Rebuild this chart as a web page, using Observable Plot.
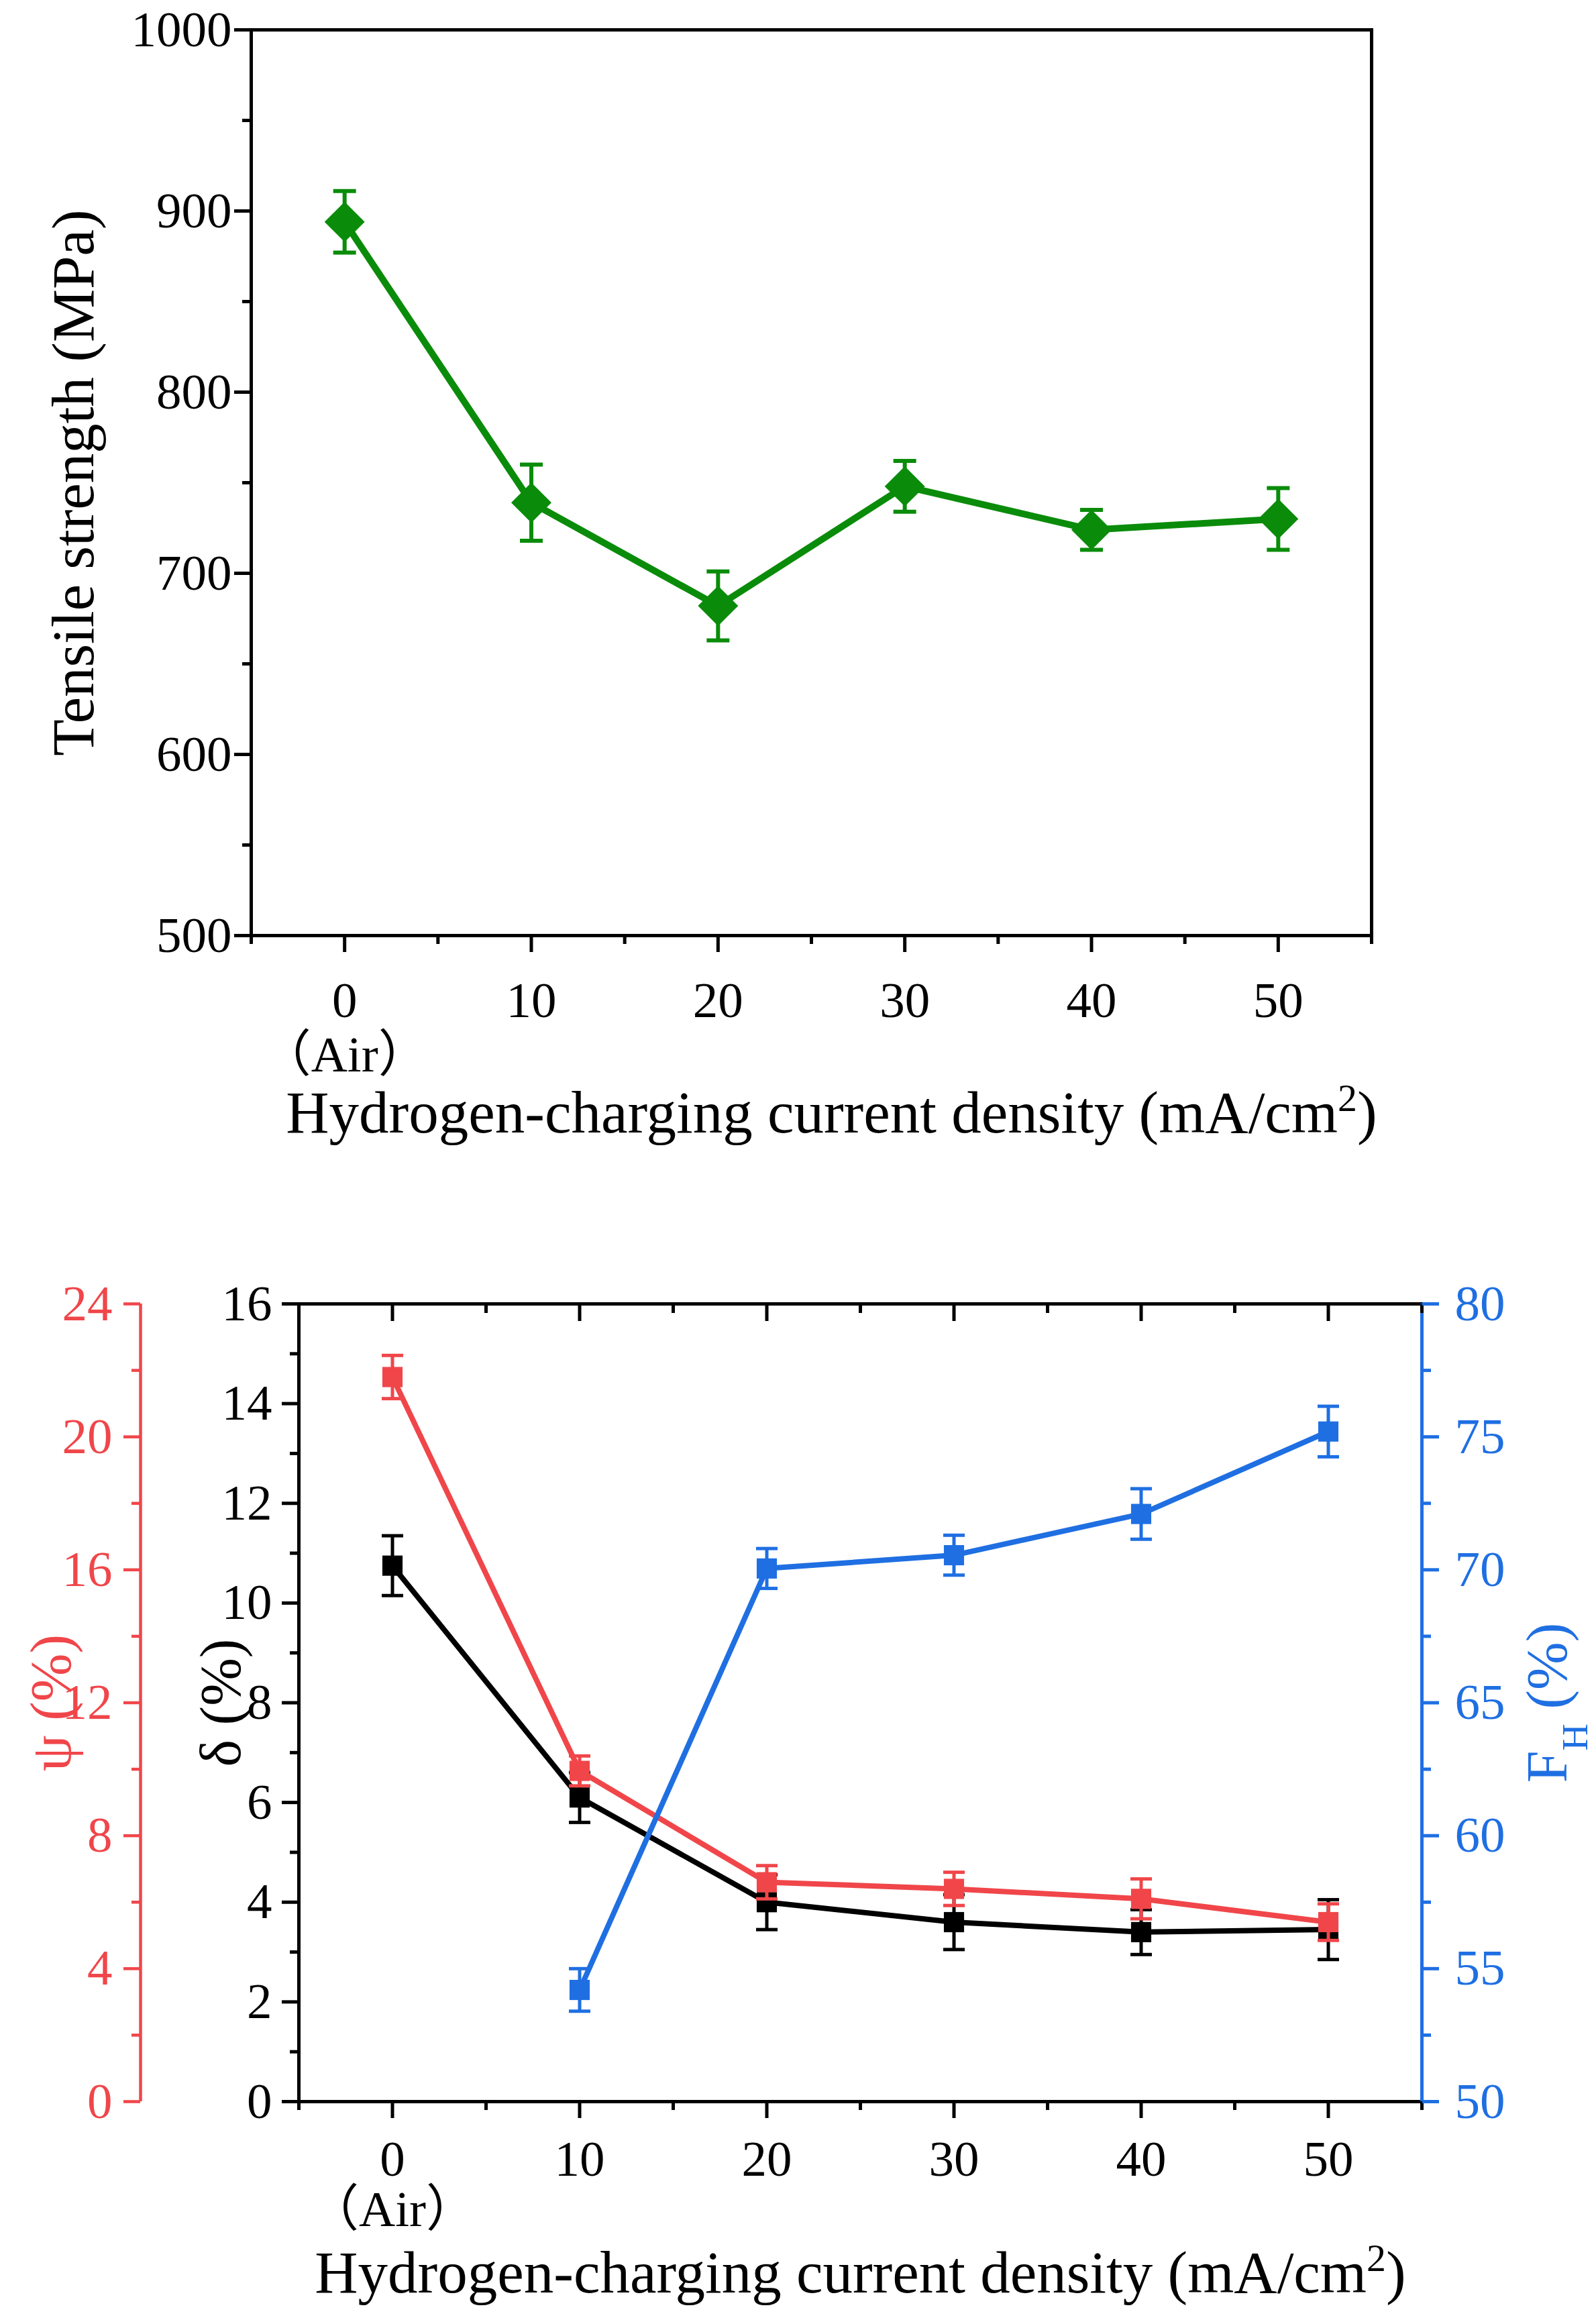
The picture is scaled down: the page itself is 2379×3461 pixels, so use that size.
<!DOCTYPE html>
<html>
<head>
<meta charset="utf-8">
<script src="https://cdn.jsdelivr.net/npm/d3@7"></script>
<script src="https://cdn.jsdelivr.net/npm/@observablehq/plot@0.6"></script>
<style>
  html, body { margin: 0; padding: 0; background: white; }
  #container-viz svg { display: block; }
</style>
</head>
<body>
<div id="container-viz"></div>
<script>
// Values
const currents = [0, 10, 20, 30, 40, 50];
const tensile = [894, 739, 682, 748, 724, 730];
const tensileErr = [17, 21, 19, 14, 11, 17];

const delta = [10.75, 6.1, 4.0, 3.6, 3.4, 3.45];
const deltaErr = [0.6, 0.5, 0.55, 0.55, 0.45, 0.6];
const psi = [21.8, 9.95, 6.6, 6.4, 6.1, 5.4];
const psiErr = [0.65, 0.45, 0.5, 0.5, 0.6, 0.55];
const fhCurrents = [10, 20, 30, 40, 50];
const fh = [54.2, 70.05, 70.55, 72.1, 75.2];
const fhErr = [0.8, 0.75, 0.75, 0.95, 0.95];

// Axes and tick labels
const xDomain = [-5, 55];
const xTicks = [0, 10, 20, 30, 40, 50];
const xMinor = [-5, 5, 15, 25, 35, 45, 55];
const tensileDomain = [500, 1000];
const tensileTicks = [500, 600, 700, 800, 900, 1000];
const tensileMinor = [550, 650, 750, 850, 950];
const deltaDomain = [0, 16];
const deltaTicks = [0, 2, 4, 6, 8, 10, 12, 14, 16];
const deltaMinor = [1, 3, 5, 7, 9, 11, 13, 15];
const psiDomain = [0, 24];
const psiTicks = [0, 4, 8, 12, 16, 20, 24];
const psiMinor = [2, 6, 10, 14, 18, 22];
const fhDomain = [50, 80];
const fhTicks = [50, 55, 60, 65, 70, 75, 80];
const fhMinor = [52.5, 57.5, 62.5, 67.5, 72.5, 77.5];

const xTitle = "Hydrogen-charging current density (mA/cm2)";

const FONT = "'Liberation Serif', 'Times New Roman', 'Noto Sans CJK SC', serif";
const GREEN = "#0a8c0a";
const RED = "#f0464a";
const BLUE = "#1f6fe2";
const W = 2379;
const TICK_FONT = 75;
const TICK_W = 5;

// horizontal cap for error bars
const cap = {
  draw(ctx, size) {
    const w = Math.sqrt(size / Math.PI);
    ctx.moveTo(-w, 0);
    ctx.lineTo(w, 0);
  }
};

const plain = d => String(d);
const airFormat = d => d === 0 ? "0\n（Air）" : String(d);

function rows(xs, ys, errs, map = d => d) {
  return xs.map((x, i) => ({x, y: map(ys[i]), lo: map(ys[i] - errs[i]), hi: map(ys[i] + errs[i])}));
}

function series(data, color, symbol, r, lineWidth, barWidth, capR) {
  return [
    Plot.line(data, {x: "x", y: "y", stroke: color, strokeWidth: lineWidth}),
    Plot.ruleX(data, {x: "x", y1: "lo", y2: "hi", stroke: color, strokeWidth: barWidth}),
    Plot.dot(data, {x: "x", y: "lo", symbol: cap, r: capR, fill: "none", stroke: color, strokeWidth: barWidth}),
    Plot.dot(data, {x: "x", y: "hi", symbol: cap, r: capR, fill: "none", stroke: color, strokeWidth: barWidth}),
    Plot.dot(data, {x: "x", y: "y", symbol, r, fill: color, stroke: "none"})
  ];
}

// vertical axis title, centred on the frame
function yTitle(label, anchor, dx, fill = "black", fontSize = 86) {
  return Plot.text([label], {text: d => d, frameAnchor: anchor, dx, rotate: -90, textAnchor: "middle", lineAnchor: "middle", fontSize, fill});
}

// replace a plain text by tspans (sub / superscripts)
function richText(svg, plainText, parts) {
  svg.querySelectorAll("text").forEach(t => {
    if (t.textContent !== plainText) return;
    t.textContent = "";
    for (const [s, shift] of parts) {
      const sp = d3.select(t).append("tspan").text(s);
      if (shift) sp.attr("baseline-shift", shift).attr("font-size", "65%");
    }
  });
}

function tensilePlot() {
  const data = rows(currents, tensile, tensileErr);
  return Plot.plot({
    width: W,
    height: 1724,
    marginTop: 44,
    marginBottom: 330,
    marginLeft: 374,
    marginRight: 335,
    style: {fontFamily: FONT, fontSize: "72px", background: "white", color: "black"},
    x: {domain: xDomain},
    y: {domain: tensileDomain},
    marks: [
      Plot.frame({stroke: "black", strokeWidth: 5}),
      Plot.axisX(xTicks, {anchor: "bottom", tickSize: 25, tickPadding: 39, strokeWidth: TICK_W, fontSize: TICK_FONT, lineHeight: 1.08, tickFormat: airFormat, label: null}),
      Plot.axisX(xMinor, {anchor: "bottom", tickSize: 13, strokeWidth: TICK_W, fill: "none", label: null}),
      Plot.axisY(tensileTicks, {anchor: "left", tickSize: 25, tickPadding: 4, strokeWidth: TICK_W, fontSize: TICK_FONT, tickFormat: plain, label: null}),
      Plot.axisY(tensileMinor, {anchor: "left", tickSize: 13, strokeWidth: TICK_W, fill: "none", label: null}),
      ...series(data, GREEN, "diamond2", 27, 10, 6, 17),
      yTitle("Tensile strength (MPa)", "left", -264, "black", 89),
      Plot.text([xTitle], {text: d => d, frameAnchor: "bottom", lineAnchor: "middle", dy: 265, dx: 30, fontSize: 89})
    ]
  });
}

function ductilityPlot() {
  const psiToDelta = d3.scaleLinear(psiDomain, deltaDomain);
  const fhToDelta = d3.scaleLinear(fhDomain, deltaDomain);
  const dData = rows(currents, delta, deltaErr);
  const pData = rows(currents, psi, psiErr, psiToDelta);
  const fData = rows(fhCurrents, fh, fhErr, fhToDelta);
  return Plot.plot({
    width: W,
    height: 1737,
    marginTop: 219,
    marginBottom: 329,
    marginLeft: 445,
    marginRight: 260,
    style: {fontFamily: FONT, fontSize: "72px", background: "white", color: "black"},
    x: {domain: xDomain},
    y: {domain: deltaDomain},
    marks: [
      Plot.frame({stroke: "black", strokeWidth: 5}),
      Plot.ruleX([xDomain[1]], {stroke: BLUE, strokeWidth: 5}),
      Plot.ruleX([xDomain[0]], {stroke: RED, strokeWidth: 4.5, dx: -236}),
      // x axis, bottom (outward) and top (inward)
      Plot.axisX(xTicks, {anchor: "bottom", tickSize: 25, tickPadding: 32, strokeWidth: TICK_W, fontSize: TICK_FONT, lineHeight: 1.0, tickFormat: airFormat, label: null}),
      Plot.axisX(xMinor, {anchor: "bottom", tickSize: 13, strokeWidth: TICK_W, fill: "none", label: null}),
      Plot.axisX(xTicks, {anchor: "top", tickSize: -25, strokeWidth: TICK_W, fill: "none", label: null}),
      Plot.axisX(xMinor, {anchor: "top", tickSize: -13, strokeWidth: TICK_W, fill: "none", label: null}),
      // delta axis
      Plot.axisY(deltaTicks, {anchor: "left", tickSize: 25, tickPadding: 15, strokeWidth: TICK_W, fontSize: TICK_FONT, tickFormat: plain, label: null}),
      Plot.axisY(deltaMinor, {anchor: "left", tickSize: 13, strokeWidth: TICK_W, fill: "none", label: null}),
      // psi axis, offset to the left
      Plot.axisY(psiTicks, {y: psiToDelta, anchor: "left", dx: -236, tickSize: 25, tickPadding: 17, strokeWidth: 4.5, color: RED, fontSize: TICK_FONT, tickFormat: plain, label: null}),
      Plot.axisY(psiMinor, {y: psiToDelta, anchor: "left", dx: -236, tickSize: 13, strokeWidth: 4.5, stroke: RED, fill: "none", label: null}),
      // F_H axis on the right
      Plot.axisY(fhTicks, {y: fhToDelta, anchor: "right", tickSize: 25, tickPadding: 24, strokeWidth: TICK_W, color: BLUE, fontSize: TICK_FONT, tickFormat: plain, label: null}),
      Plot.axisY(fhMinor, {y: fhToDelta, anchor: "right", tickSize: 13, strokeWidth: TICK_W, stroke: BLUE, fill: "none", label: null}),
      ...series(dData, "black", "square", 17, 8, 5, 16),
      ...series(pData, RED, "square", 17, 8, 5, 16),
      ...series(fData, BLUE, "square", 17, 8, 5, 16),
      yTitle("ψ (%)", "left", -368, RED),
      yTitle("δ (%)", "left", -115),
      yTitle("FH (%)", "right", 188, BLUE),
      Plot.text([xTitle], {text: d => d, frameAnchor: "bottom", lineAnchor: "middle", dy: 256, fontSize: 89})
    ]
  });
}

document.addEventListener("DOMContentLoaded", function () {
  const vizContainer = document.getElementById("container-viz");
  const a = tensilePlot();
  const b = ductilityPlot();
  for (const svg of [a, b]) {
    richText(svg, xTitle, [["Hydrogen-charging current density (mA/cm", null], ["2", "super"], [")", null]]);
    richText(svg, "FH (%)", [["F", null], ["H", "sub"], [" (%)", null]]);
    vizContainer.appendChild(svg);
  }
});
</script>
</body>
</html>
